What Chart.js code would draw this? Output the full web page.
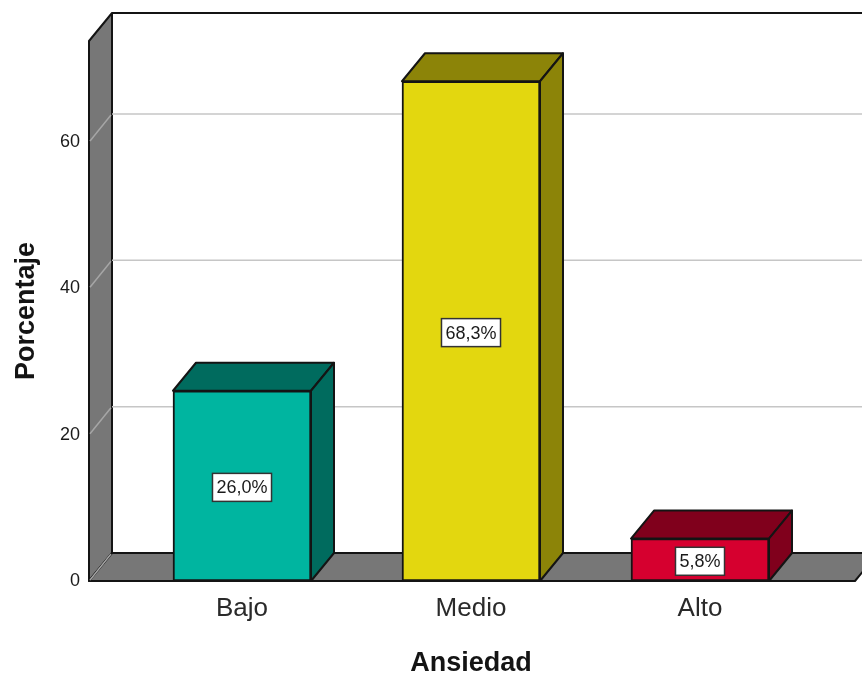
<!DOCTYPE html>
<html>
<head>
<meta charset="utf-8">
<title>Ansiedad</title>
<script src="https://cdn.jsdelivr.net/npm/chart.js@4"></script>
<style>
  html, body { margin: 0; padding: 0; background: #fff; overflow: hidden; }
  canvas { display: block; }
</style>
</head>
<body>
<canvas id="grafico" width="862" height="675"></canvas>
<script>
const categorias = ['Bajo', 'Medio', 'Alto'];
const porcentajes = [26.0, 68.3, 5.8];
const coloresFrente = ['#00b5a0', '#e3d70f', '#d6002f'];
const coloresLado = ['#006b5e', '#8c8408', '#80001c'];
const coloresTapa = ['#006b5e', '#8c8408', '#80001c'];

// profundidad del efecto 3D, en px
const prof = { x: 23, y: 28 };
const linea = '#141414';

function poligono(ctx, puntos, relleno) {
    ctx.beginPath();
    puntos.forEach(function (p, i) {
        if (i === 0) ctx.moveTo(p[0], p[1]);
        else ctx.lineTo(p[0], p[1]);
    });
    ctx.closePath();
    ctx.fillStyle = relleno;
    ctx.fill();
    ctx.stroke();
}

const efecto3d = {
    id: 'efecto3d',
    beforeDatasetsDraw(chart) {
        const ctx = chart.ctx;
        const y = chart.scales.y;
        const base = y.getPixelForValue(0);
        const arriba = chart.chartArea.top;
        const izq = 89;
        const der = 855;

        ctx.save();
        ctx.strokeStyle = linea;
        ctx.lineWidth = 2;
        ctx.lineJoin = 'round';

        // pared izquierda y piso
        poligono(ctx, [[izq, arriba], [izq + prof.x, arriba - prof.y], [izq + prof.x, base - prof.y], [izq, base]], '#777777');
        poligono(ctx, [[izq, base], [izq + prof.x, base - prof.y], [der + prof.x, base - prof.y], [der, base]], '#777777');

        // borde superior de la pared del fondo
        ctx.beginPath();
        ctx.moveTo(izq + prof.x, arriba - prof.y);
        ctx.lineTo(862, arriba - prof.y);
        ctx.stroke();

        // lineas de rejilla
        ctx.lineWidth = 1.5;
        y.ticks.forEach(function (t) {
            const py = y.getPixelForValue(t.value);
            ctx.strokeStyle = '#a6a6a6';
            ctx.beginPath();
            ctx.moveTo(izq + 1, py - 1);
            ctx.lineTo(izq + prof.x - 1, py - prof.y + 1);
            ctx.stroke();
            if (t.value > 0) {
                ctx.strokeStyle = '#c6c6c6';
                ctx.beginPath();
                ctx.moveTo(izq + prof.x, py - prof.y);
                ctx.lineTo(862, py - prof.y);
                ctx.stroke();
            }
        });

        // tapa y lado de cada barra
        ctx.strokeStyle = linea;
        ctx.lineWidth = 2;
        chart.getDatasetMeta(0).data.forEach(function (barra, i) {
            const a = barra.x - barra.width / 2;
            const b = barra.x + barra.width / 2;
            const t = barra.y;
            const f = barra.base;
            poligono(ctx, [[a, t], [a + prof.x, t - prof.y], [b + prof.x, t - prof.y], [b, t]], coloresTapa[i]);
            poligono(ctx, [[b, t], [b + prof.x, t - prof.y], [b + prof.x, f - prof.y], [b, f]], coloresLado[i]);
        });
        ctx.restore();
    },
    afterDatasetsDraw(chart) {
        const ctx = chart.ctx;
        ctx.save();
        ctx.font = '18px "Liberation Sans", Arial, sans-serif';
        ctx.textAlign = 'center';
        ctx.textBaseline = 'middle';
        chart.getDatasetMeta(0).data.forEach(function (barra, i) {
            const texto = porcentajes[i].toFixed(1).replace('.', ',') + '%';
            const cy = (barra.y + barra.base) / 2 + 1.5;
            const ancho = ctx.measureText(texto).width + 8;
            const alto = 28;
            ctx.fillStyle = '#ffffff';
            ctx.strokeStyle = '#333333';
            ctx.lineWidth = 1.5;
            ctx.fillRect(barra.x - ancho / 2, cy - alto / 2, ancho, alto);
            ctx.strokeRect(barra.x - ancho / 2, cy - alto / 2, ancho, alto);
            ctx.fillStyle = '#1a1a1a';
            ctx.fillText(texto, barra.x, cy + 1);
        });
        ctx.restore();
    }
};

const ctx = document.getElementById('grafico').getContext('2d');

new Chart(ctx, {
    type: 'bar',
    data: {
        labels: categorias,
        datasets: [{
            data: porcentajes,
            backgroundColor: coloresFrente,
            borderColor: linea,
            borderWidth: 2,
            borderSkipped: false,
            barThickness: 138
        }]
    },
    plugins: [efecto3d],
    options: {
        responsive: false,
        animation: false,
        layout: { padding: { top: 41, right: 47.5, left: 0, bottom: 0 } },
        plugins: {
            legend: { display: false },
            tooltip: { enabled: false }
        },
        scales: {
            x: {
                afterFit(scale) { scale.height = 94; },
                grid: { display: false },
                border: { display: false },
                ticks: {
                    padding: 4,
                    color: '#2a2a2a',
                    font: { family: '"Liberation Sans", Arial, sans-serif', size: 26 }
                },
                title: {
                    display: true,
                    text: 'Ansiedad',
                    color: '#141414',
                    padding: { top: 0, bottom: -5 },
                    font: { family: '"Liberation Sans", Arial, sans-serif', size: 27, weight: 'bold' }
                }
            },
            y: {
                min: 0,
                max: 73.8,
                afterFit(scale) {
                    scale.width = 127.5;
                    // el padding de las etiquetas no debe empujar el area
                    scale.paddingTop = 0;
                },
                grid: { display: false },
                border: { display: false },
                ticks: {
                    stepSize: 20,
                    includeBounds: false,
                    padding: 39.5,
                    color: '#1a1a1a',
                    font: { family: '"Liberation Sans", Arial, sans-serif', size: 18 }
                },
                title: {
                    display: true,
                    text: 'Porcentaje',
                    color: '#141414',
                    padding: { top: 10, bottom: 0 },
                    font: { family: '"Liberation Sans", Arial, sans-serif', size: 27, weight: 'bold' }
                }
            }
        }
    }
});
</script>
</body>
</html>
